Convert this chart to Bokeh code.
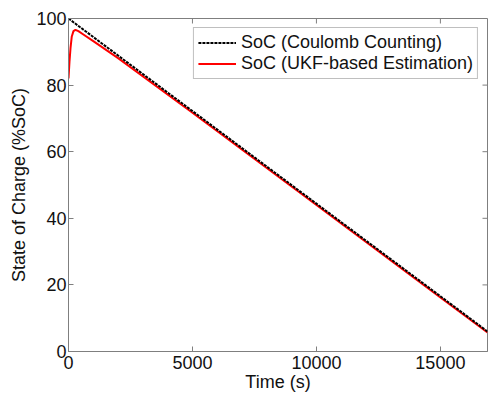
import math
from bokeh.plotting import figure
from bokeh.models import Range1d, Legend, LegendItem, FixedTicker
from bokeh.embed import file_html
from bokeh.resources import INLINE

# Data
time_cc = [0, 5000, 10000, 15000, 16900]
soc_cc = [100, 72.2, 44.4, 16.6, 6.0]

time_ukf = [0, 40, 80, 130, 200, 280, 400, 600, 1000, 2000, 5000, 10000, 15000, 16900]
soc_ukf = [82, 87, 91, 94.5, 96.2, 96.6, 96.2, 95.2, 93.2, 88.1, 71.7, 44.0, 16.2, 5.7]

x_ticks = [0, 5000, 10000, 15000]
y_ticks = [0, 20, 40, 60, 80, 100]
x_max = 16900
y_max = 100

FONT = "Liberation Sans"
AX = "#7f7f7f"
TXT = "#111111"

p = figure(width=488, height=394, output_backend="svg", toolbar_location=None,
           x_range=Range1d(0, x_max), y_range=Range1d(0, y_max),
           min_border_left=68, min_border_right=1, min_border_top=18, min_border_bottom=0)
p.background_fill_color = "white"
p.border_fill_color = "white"
p.outline_line_color = AX
p.grid.visible = False

for ax in p.xaxis + p.yaxis:
    ax.major_label_text_font = FONT
    ax.major_label_text_font_size = "18px"
    ax.major_label_text_color = TXT
    ax.axis_label_text_font = FONT
    ax.axis_label_text_font_size = "18px"
    ax.axis_label_text_font_style = "normal"
    ax.axis_label_text_color = TXT
    ax.axis_line_color = AX
    ax.major_tick_line_color = AX
    ax.major_tick_in = 5
    ax.major_tick_out = 0
    ax.minor_tick_line_color = None

p.xaxis.ticker = FixedTicker(ticks=x_ticks)
p.yaxis.ticker = FixedTicker(ticks=y_ticks)
p.xaxis.axis_label = "Time (s)"
p.yaxis.axis_label = "State of Charge (%SoC)"
p.xaxis.major_label_standoff = 4
p.xaxis.axis_label_standoff = 0
p.yaxis.major_label_standoff = 2
p.yaxis.axis_label_standoff = 4

# Box-style ticks on top and right edges
p.ray(x=x_ticks, y=[y_max] * len(x_ticks), length=5, length_units="screen",
      angle=-math.pi / 2, line_color=AX, line_width=1)
p.ray(x=[x_max] * len(y_ticks), y=y_ticks, length=5, length_units="screen",
      angle=math.pi, line_color=AX, line_width=1)

r_ukf = p.line(time_ukf, soc_ukf, line_color="#ff0000", line_width=2)
r_cc = p.line(time_cc, soc_cc, line_color="black", line_width=2, line_dash="3 1")

legend = Legend(items=[LegendItem(label="SoC (Coulomb Counting)", renderers=[r_cc]),
                       LegendItem(label="SoC (UKF-based Estimation)", renderers=[r_ukf])],
                location="top_right")
legend.label_text_font = FONT
legend.label_text_font_size = "18px"
legend.label_text_color = TXT
legend.border_line_color = AX
legend.border_line_width = 1
legend.background_fill_color = "white"
legend.background_fill_alpha = 1
legend.glyph_width = 38
legend.glyph_height = 19
legend.label_height = 19
legend.spacing = 0
legend.padding = 4
legend.margin = 9
legend.label_standoff = 5
p.add_layout(legend, "center")

open("out.html", "w").write(file_html(p, INLINE))
